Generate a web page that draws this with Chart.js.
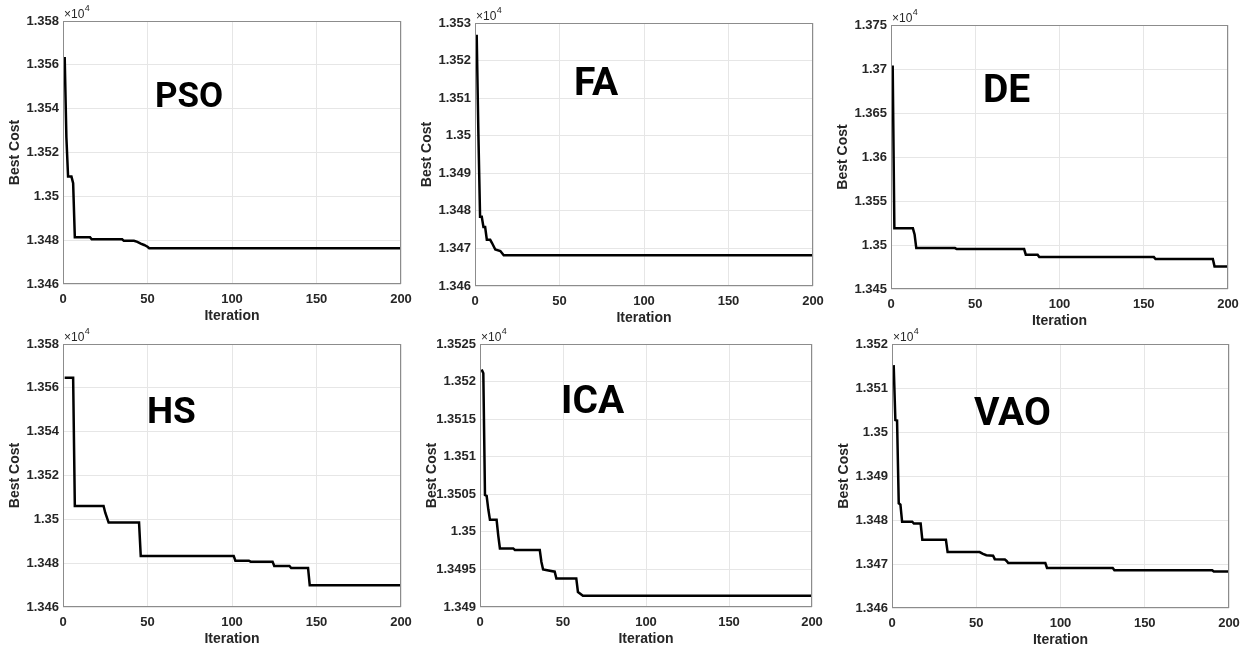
<!DOCTYPE html>
<html>
<head>
<meta charset="utf-8">
<script src="https://cdn.jsdelivr.net/npm/chart.js@4.4.0/dist/chart.umd.min.js"></script>
<style>
    body{margin:0;background:#fff;width:1247px;height:651px;overflow:hidden;position:relative;}
</style>
</head>
<body>
<script>
// Données des courbes (Best Cost par itération, points de rupture) //

const algorithms = ['PSO', 'FA', 'DE', 'HS', 'ICA', 'VAO'];
const xTicks = [0, 50, 100, 150, 200];
const yMin = [13460, 13460, 13450, 13460, 13490, 13460];
const yMax = [13580, 13530, 13750, 13580, 13525, 13520];
const yStep = [20, 10, 50, 20, 5, 10];

const psoIter = [1, 2, 3, 5, 6, 7, 16, 17, 35, 36, 42, 44, 46, 48, 50, 51, 200];
const psoCost = [13563.6, 13527, 13509, 13509, 13506, 13481.3, 13481.3, 13480.4, 13480.4, 13479.7, 13479.7, 13479.2, 13478.4, 13477.8, 13477.0, 13476.3, 13476.3];

const faIter = [1, 2, 3, 4, 5, 6, 7, 9, 10, 12, 15, 17, 200];
const faCost = [13526.9, 13500.5, 13478.4, 13478.4, 13475.7, 13475.7, 13472.3, 13472.3, 13471.5, 13469.7, 13469.3, 13468.2, 13468.2];

const deIter = [1, 2, 13, 14, 15, 38, 39, 79, 80, 87, 88, 156, 157, 191, 192, 200];
const deCost = [13703.9, 13518.9, 13518.9, 13512, 13496.5, 13496.5, 13495.4, 13495.4, 13489.0, 13489.0, 13486.3, 13486.3, 13484.1, 13484.1, 13475.7, 13475.7];

const hsIter = [1, 6, 7, 24, 25, 27, 45, 46, 101, 102, 110, 111, 124, 125, 134, 135, 145, 146, 200];
const hsCost = [13564.6, 13564.6, 13506.1, 13506.1, 13503, 13498.5, 13498.5, 13483.3, 13483.3, 13481.1, 13481.1, 13480.7, 13480.7, 13478.7, 13478.7, 13477.8, 13477.8, 13469.9, 13469.9];

const icaIter = [1, 2, 3, 4, 5, 6, 10, 11, 12, 20, 21, 36, 37, 38, 45, 46, 58, 59, 62, 200];
const icaCost = [13521.6, 13521.1, 13504.9, 13504.8, 13503, 13501.6, 13501.6, 13499.5, 13497.8, 13497.8, 13497.6, 13497.6, 13496, 13495.0, 13494.7, 13493.8, 13493.8, 13492.0, 13491.5, 13491.5];

const vaoIter = [1, 2, 3, 4, 5, 6, 12, 13, 17, 18, 32, 33, 52, 54, 56, 60, 61, 67, 68, 69, 91, 92, 131, 132, 190, 191, 200];
const vaoCost = [13515.2, 13502.7, 13502.6, 13483.8, 13483.5, 13479.6, 13479.6, 13479.2, 13479.2, 13475.5, 13475.5, 13472.7, 13472.7, 13472.3, 13472.0, 13471.9, 13471.1, 13471.0, 13470.7, 13470.2, 13470.2, 13469.1, 13469.1, 13468.6, 13468.6, 13468.3, 13468.3];

const iterations = [psoIter, faIter, deIter, hsIter, icaIter, vaoIter];
const costs = [psoCost, faCost, deCost, hsCost, icaCost, vaoCost];

// Mise en page : zone de tracé [gauche, haut, droite, bas] et étiquette [x, ligne de base, taille] //

const panels = [
    {box: [63, 21, 401, 284], tag: [155, 107, 35]},
    {box: [475, 23, 813, 286], tag: [574, 95, 39]},
    {box: [891, 25, 1228, 289], tag: [983, 102, 39]},
    {box: [63, 344, 401, 607], tag: [147, 423, 37]},
    {box: [480, 344, 812, 607], tag: [561, 413, 39]},
    {box: [892, 344, 1229, 608], tag: [974, 425, 39]}
];

const tickFont = {family: 'Liberation Sans', size: 13, weight: 'bold'};
const titleFont = {family: 'Liberation Sans', size: 14, weight: 'bold'};

for(let i = 0; i < algorithms.length; i++){
    let p = panels[i];
    let L = p.box[0], T = p.box[1], R = p.box[2], B = p.box[3];
    let left = L - 63;
    let top = T - 25;
    let w = R + 16 - left;
    let h = B + 42 - top;

    let canvas = document.createElement('canvas');
    canvas.width = w;
    canvas.height = h;
    canvas.style.cssText = `position:absolute;left:${left}px;top:${top}px;width:${w}px;height:${h}px;`;
    document.body.appendChild(canvas);

    // cadre, ×10^4 et nom de l'algorithme
    let decor = {
        id: 'decor' + i,
        afterDatasetsDraw(chart){
            let ctx = chart.ctx;
            let a = chart.chartArea;
            ctx.save();
            ctx.strokeStyle = '#8c8c8c';
            ctx.lineWidth = 1;
            ctx.strokeRect(Math.round(a.left) + 0.5, Math.round(a.top) + 0.5, Math.round(a.right - a.left) - 1, Math.round(a.bottom - a.top) - 1);

            ctx.fillStyle = '#262626';
            ctx.textBaseline = 'alphabetic';
            ctx.textAlign = 'left';
            ctx.font = '12px "Liberation Sans"';
            ctx.fillText('×10', a.left + 1, a.top - 3);
            let wx = ctx.measureText('×10').width;
            ctx.font = '9px "Liberation Sans"';
            ctx.fillText('4', a.left + 1 + wx + 0.5, a.top - 10);

            ctx.fillStyle = '#000';
            ctx.font = `bold ${p.tag[2]}px Roboto`;
            ctx.fillText(algorithms[i], p.tag[0] - left, p.tag[1] - top);
            ctx.restore();
        }
    };

    new Chart(canvas, {
        type: 'line',
        data: {
            datasets: [{
                label: algorithms[i],
                data: iterations[i].map((x, k) => ({x: x, y: costs[i][k]})),
                borderColor: '#000',
                borderWidth: 2.5,
                pointRadius: 0,
                tension: 0,
                fill: false
            }]
        },
        options: {
            responsive: false,
            animation: false,
            layout: {padding: {left: 0, top: 25, right: 16, bottom: 0}},
            plugins: {legend: {display: false}, tooltip: {enabled: false}},
            scales: {
                x: {
                    type: 'linear',
                    min: 0,
                    max: 200,
                    afterBuildTicks: function(axis){ axis.ticks = xTicks.map(v => ({value: v})); },
                    afterFit: function(axis){ axis.height = 42; axis.paddingLeft = 0; axis.paddingRight = 0; },
                    grid: {color: '#e6e6e6', drawTicks: false},
                    border: {display: false},
                    ticks: {font: tickFont, color: '#262626', padding: 8, maxRotation: 0},
                    title: {display: true, text: 'Iteration', font: titleFont, color: '#262626', padding: {top: 0, bottom: 1}}
                },
                y: {
                    type: 'linear',
                    min: yMin[i],
                    max: yMax[i],
                    afterFit: function(axis){ axis.width = 63; axis.paddingTop = 0; axis.paddingBottom = 0; },
                    grid: {color: '#e6e6e6', drawTicks: false},
                    border: {display: false},
                    ticks: {
                        stepSize: yStep[i],
                        font: tickFont,
                        color: '#262626',
                        padding: 4,
                        callback: v => String(+(v / 1e4).toFixed(5))
                    },
                    title: {display: true, text: 'Best Cost', font: titleFont, color: '#262626', padding: {top: 7, bottom: 0}}
                }
            }
        },
        plugins: [decor]
    });
}
</script>
</body>
</html>
